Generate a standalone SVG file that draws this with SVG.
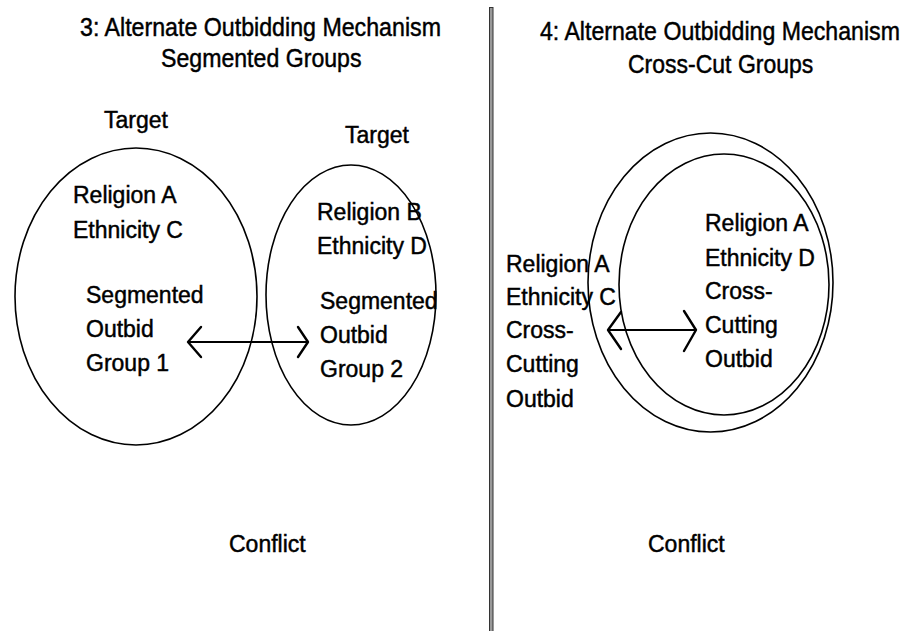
<svg xmlns="http://www.w3.org/2000/svg" width="916" height="631" viewBox="0 0 916 631">
<style>
text{font-family:"Liberation Sans",Arial,sans-serif;fill:#000;stroke:#000;stroke-width:0.45}
.t{font-size:25px}
.b{font-size:23px}
.e{fill:none;stroke:#000;stroke-width:1.6}
.c{fill:none;stroke:#000;stroke-width:1.8}
.h{fill:none;stroke:#000;stroke-width:2.4;stroke-linecap:round;stroke-linejoin:round}
</style>
<rect width="916" height="631" fill="#fff"/>
<g id="divider"><rect x="489.5" y="7.5" width="3.5" height="630" fill="#999" stroke="#333" stroke-width="1"/></g>
<g id="title3">
<text class="t" transform="translate(80,36) scale(0.928,1)">3: Alternate Outbidding Mechanism</text>
<text class="t" transform="translate(161,67) scale(0.925,1)">Segmented Groups</text>
</g>
<g id="title4">
<text class="t" transform="translate(540,40) scale(0.925,1)">4: Alternate Outbidding Mechanism</text>
<text class="t" transform="translate(628,73) scale(0.92,1)">Cross-Cut Groups</text>
</g>
<g id="group1">
<text class="b" x="104" y="128">Target</text>
<ellipse class="e" cx="136" cy="296.5" rx="121" ry="148.5"/>
<text class="b" x="73" y="203">Religion A</text>
<text class="b" x="73" y="238">Ethnicity C</text>
<text class="b" x="86" y="303">Segmented</text>
<text class="b" x="86" y="337">Outbid</text>
<text class="b" x="86" y="371">Group 1</text>
</g>
<g id="group2">
<text class="b" x="345" y="143">Target</text>
<ellipse class="e" cx="351" cy="295" rx="85" ry="130"/>
<text class="b" x="317" y="220">Religion B</text>
<text class="b" x="317" y="254">Ethnicity D</text>
<text class="b" x="320" y="309">Segmented</text>
<text class="b" x="320" y="343">Outbid</text>
<text class="b" x="320" y="377">Group 2</text>
</g>
<g id="crosscut-outer">
<ellipse class="e" cx="710.5" cy="282.5" rx="122.5" ry="149.5"/>
<text class="b" x="506" y="272">Religion A</text>
<text class="b" x="506" y="305">Ethnicity C</text>
<text class="b" x="506" y="338">Cross-</text>
<text class="b" x="506" y="372">Cutting</text>
<text class="b" x="506" y="407">Outbid</text>
</g>
<g id="crosscut-inner">
<ellipse class="e" cx="724" cy="284.5" rx="105" ry="130.5"/>
<text class="b" x="705" y="231">Religion A</text>
<text class="b" x="705" y="266">Ethnicity D</text>
<text class="b" x="705" y="299">Cross-</text>
<text class="b" x="705" y="333">Cutting</text>
<text class="b" x="705" y="367">Outbid</text>
</g>
<g id="conflict3"><text class="b" x="229" y="552">Conflict</text></g>
<g id="conflict4"><text class="b" x="648" y="552">Conflict</text></g>
<g id="connectors">
<line class="c" x1="188" y1="342" x2="307" y2="342"/>
<polyline class="h" points="201,327 188,342 201,357"/>
<polyline class="h" points="298,327 308,342 298,357"/>
<line class="c" x1="608" y1="330" x2="695" y2="330"/>
<polyline class="h" points="621,312 608,330 621,349"/>
<polyline class="h" points="684,311 696,330 684,351"/>
</g>
</svg>
